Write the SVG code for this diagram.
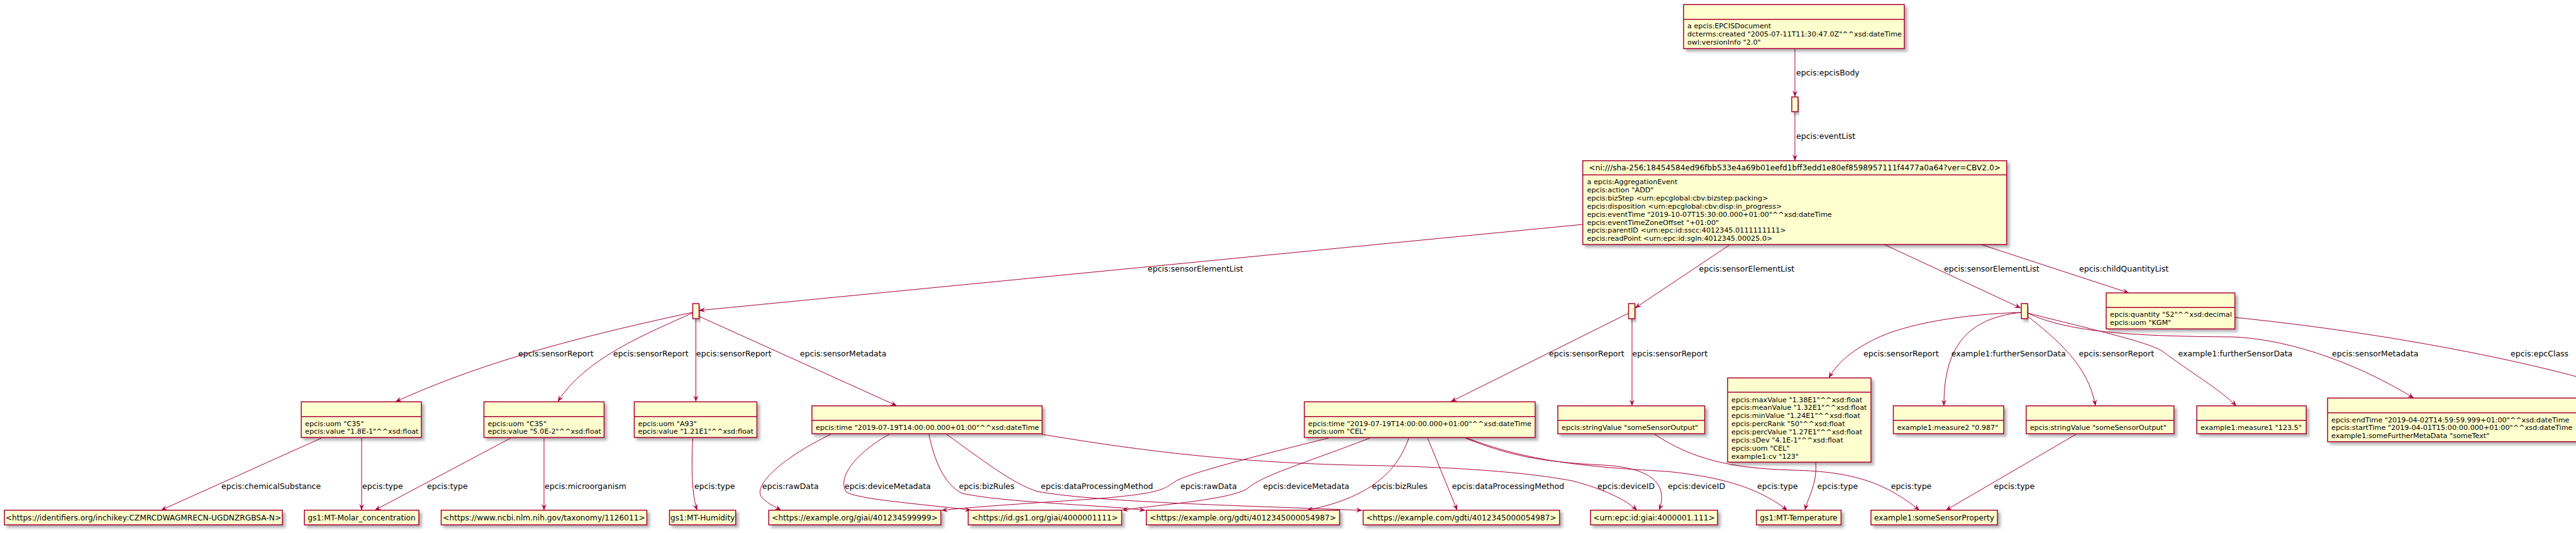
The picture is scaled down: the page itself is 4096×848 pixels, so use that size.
<svg xmlns="http://www.w3.org/2000/svg" width="4096" height="848" viewBox="0 0 4096 848">
<defs>
<style>
.box{fill:#FEFECE;stroke:#A80036;stroke-width:1.5;filter:url(#sh)}
.sep{stroke:#A80036;stroke-width:1.5}
.at{font-family:"DejaVu Sans",sans-serif;font-size:11.2px;fill:#000}
.nm{font-family:"DejaVu Sans",sans-serif;font-size:12.2px;fill:#000;text-anchor:middle}
.lb{font-family:"DejaVu Sans",sans-serif;font-size:12.5px;fill:#000}
.e{fill:none;stroke:#A80036;stroke-width:1;marker-end:url(#ah)}
.en{fill:none;stroke:#A80036;stroke-width:1}
</style>
<filter id="sh" x="-10%" y="-10%" width="130%" height="150%">
<feDropShadow dx="4" dy="4" stdDeviation="2" flood-color="#000" flood-opacity="0.3"/>
</filter>
<marker id="ah" viewBox="0 0 10 10" refX="10" refY="5" markerWidth="10" markerHeight="10" markerUnits="userSpaceOnUse" orient="auto">
<path d="M0,1 L10,5 L0,9 L4,5 Z" fill="#A80036"/>
</marker>
</defs>
<rect width="4096" height="848" fill="#fff"/>

<g id="connectors">
<path class="e" d="M2854,77.5 L2854,154"/>
<path class="e" d="M2854,178 L2854,255.7"/>
<path class="e" d="M2517,357 L1111.5,494"/>
<path class="e" d="M2751,389 L2600,490"/>
<path class="e" d="M2996,389 L3213,490"/>
<path class="e" d="M3150,389 L3385,466"/>
<path class="en" d="M3553,505 C3750,525 3950,560 4100,600"/>
<path class="e" d="M1101,497 C900,540 760,580 629,639"/>
<path class="e" d="M1101,498 C1030,530 930,570 887,639"/>
<path class="e" d="M1106.5,507 L1106.5,639"/>
<path class="e" d="M1111,503 L1426,645.5"/>
<path class="e" d="M511,697 L256,811.7"/>
<path class="e" d="M575,697 L575,811.7"/>
<path class="e" d="M812,697 L596,811.7"/>
<path class="e" d="M865,697 L865,811.7"/>
<path class="e" d="M1101.7,697 C1099,740 1100,790 1108.7,811.7"/>
<path class="e" d="M1321,691 C1240,730 1195,775 1212,792 C1222,802 1232,806 1242,811.7"/>
<path class="e" d="M1414,691 C1370,715 1330,755 1345,782 C1360,795 1480,803 1544,811.7"/>
<path class="e" d="M1477,691 C1485,730 1500,770 1530,785 C1600,800 1750,803 1821,812"/>
<path class="e" d="M1505,691 C1560,730 1610,770 1650,782 C1750,800 2000,805 2166,812"/>
<path class="e" d="M1657,691 C1800,715 1950,735 2150,740 C2300,742 2420,750 2500,765 C2550,778 2585,795 2603,811.7"/>
<path class="e" d="M2112,697 C2000,725 1900,750 1870,765 C1850,780 1840,785 1750,793 C1650,800 1550,806 1497,812"/>
<path class="e" d="M2178,697 C2080,735 2010,755 1985,776 C1960,795 1850,802 1784,811.7"/>
<path class="e" d="M2240,697 C2225,740 2190,790 2078,811.7"/>
<path class="e" d="M2270,697 L2317,811.7"/>
<path class="e" d="M2330,697 C2400,725 2450,735 2550,740 C2640,745 2650,780 2638,811.7"/>
<path class="e" d="M2333,697 C2420,730 2500,742 2650,750 C2750,760 2800,780 2842,811.7"/>
<path class="e" d="M2887,735.3 C2890,770 2875,790 2870,811.7"/>
<path class="e" d="M2631,691 C2690,730 2750,745 2850,748 C2950,750 3000,770 3052,811.7"/>
<path class="e" d="M3301,691 L3094,811.7"/>
<path class="e" d="M2590,498 L2307,639"/>
<path class="e" d="M2595,507 L2595,645.7"/>
<path class="e" d="M3214,497 C3120,500 3030,515 2980,540 C2940,560 2920,580 2908,601.3"/>
<path class="e" d="M3214,497 C3140,505 3090,540 3091,645.7"/>
<path class="e" d="M3224,503 C3270,540 3320,580 3332,645.7"/>
<path class="e" d="M3224,498 C3330,525 3420,545 3440,560 C3480,590 3530,620 3556,645.7"/>
<path class="e" d="M3224,498 C3290,530 3400,535 3550,536 C3650,540 3760,585 3838,633.3"/>

<text class="lb" x="2856" y="120.2">epcis:epcisBody</text>
<text class="lb" x="2856" y="221.2">epcis:eventList</text>
<text class="lb" x="1825" y="432.2">epcis:sensorElementList</text>
<text class="lb" x="2701.5" y="432.2">epcis:sensorElementList</text>
<text class="lb" x="3091" y="432.2">epcis:sensorElementList</text>
<text class="lb" x="3306" y="432.2">epcis:childQuantityList</text>
<text class="lb" x="3992" y="567.2">epcis:epcClass</text>
<text class="lb" x="824" y="567.2">epcis:sensorReport</text>
<text class="lb" x="975" y="567.2">epcis:sensorReport</text>
<text class="lb" x="1107" y="567.2">epcis:sensorReport</text>
<text class="lb" x="1272" y="567.2">epcis:sensorMetadata</text>
<text class="lb" x="2463" y="567.2">epcis:sensorReport</text>
<text class="lb" x="2595.6" y="567.2">epcis:sensorReport</text>
<text class="lb" x="2963" y="567.2">epcis:sensorReport</text>
<text class="lb" x="3102.8" y="567.2">example1:furtherSensorData</text>
<text class="lb" x="3305.5" y="567.2">epcis:sensorReport</text>
<text class="lb" x="3463.5" y="567.2">example1:furtherSensorData</text>
<text class="lb" x="3708" y="567.2">epcis:sensorMetadata</text>
<text class="lb" x="352" y="778.2">epcis:chemicalSubstance</text>
<text class="lb" x="576" y="778.2">epcis:type</text>
<text class="lb" x="679" y="778.2">epcis:type</text>
<text class="lb" x="866" y="778.2">epcis:microorganism</text>
<text class="lb" x="1104" y="778.2">epcis:type</text>
<text class="lb" x="1212" y="778.2">epcis:rawData</text>
<text class="lb" x="1343" y="778.2">epcis:deviceMetadata</text>
<text class="lb" x="1524.7" y="778.2">epcis:bizRules</text>
<text class="lb" x="1655" y="778.2">epcis:dataProcessingMethod</text>
<text class="lb" x="1877" y="778.2">epcis:rawData</text>
<text class="lb" x="2008.5" y="778.2">epcis:deviceMetadata</text>
<text class="lb" x="2181.5" y="778.2">epcis:bizRules</text>
<text class="lb" x="2308.7" y="778.2">epcis:dataProcessingMethod</text>
<text class="lb" x="2540" y="778.2">epcis:deviceID</text>
<text class="lb" x="2652" y="778.2">epcis:deviceID</text>
<text class="lb" x="2794" y="778.2">epcis:type</text>
<text class="lb" x="2889.5" y="778.2">epcis:type</text>
<text class="lb" x="3006.7" y="778.2">epcis:type</text>
<text class="lb" x="3170.6" y="778.2">epcis:type</text>
</g>

<g id="doc">
<rect class="box" x="2677" y="7.3" width="351" height="70"/>
<line class="sep" x1="2677" y1="30.7" x2="3028" y2="30.7"/>
<text class="at" x="2683" y="45.3">a epcis:EPCISDocument</text>
<text class="at" x="2683" y="58.2">dcterms:created "2005-07-11T11:30:47.0Z"^^xsd:dateTime</text>
<text class="at" x="2683" y="71.1">owl:versionInfo "2.0"</text>
</g>
<g id="b0"><rect class="box" x="2849" y="154.3" width="10" height="23.4"/></g>

<g id="event">
<rect class="box" x="2516.7" y="255.7" width="674" height="133.3"/>
<line class="sep" x1="2516.7" y1="278.3" x2="3190.7" y2="278.3"/>
<text class="nm" x="2853.7" y="271">&lt;ni:///sha-256;18454584ed96fbb533e4a69b01eefd1bff3edd1e80ef8598957111f4477a0a64?ver=CBV2.0&gt;</text>
<text class="at" x="2523.5" y="293">a epcis:AggregationEvent</text>
<text class="at" x="2523.5" y="305.9">epcis:action "ADD"</text>
<text class="at" x="2523.5" y="318.8">epcis:bizStep &lt;urn:epcglobal:cbv:bizstep:packing&gt;</text>
<text class="at" x="2523.5" y="331.7">epcis:disposition &lt;urn:epcglobal:cbv:disp:in_progress&gt;</text>
<text class="at" x="2523.5" y="344.6">epcis:eventTime "2019-10-07T15:30:00.000+01:00"^^xsd:dateTime</text>
<text class="at" x="2523.5" y="357.5">epcis:eventTimeZoneOffset "+01:00"</text>
<text class="at" x="2523.5" y="370.4">epcis:parentID &lt;urn:epc:id:sscc:4012345.0111111111&gt;</text>
<text class="at" x="2523.5" y="383.3">epcis:readPoint &lt;urn:epc:id:sgln:4012345.00025.0&gt;</text>
</g>

<g id="b1"><rect class="box" x="1101.5" y="483" width="10" height="24"/></g>
<g id="b2"><rect class="box" x="2589.5" y="483" width="10" height="24"/></g>
<g id="b3"><rect class="box" x="3214" y="483" width="10" height="24"/></g>

<g id="qty">
<rect class="box" x="3349" y="466" width="204.6" height="57.3"/>
<line class="sep" x1="3349" y1="489.3" x2="3553.6" y2="489.3"/>
<text class="at" x="3355" y="504">epcis:quantity "52"^^xsd:decimal</text>
<text class="at" x="3355" y="517">epcis:uom "KGM"</text>
</g>

<g id="c35a">
<rect class="box" x="479" y="639.3" width="191" height="56.7"/>
<line class="sep" x1="479" y1="662.7" x2="670" y2="662.7"/>
<text class="at" x="485" y="677.5">epcis:uom "C35"</text>
<text class="at" x="485" y="690.4">epcis:value "1.8E-1"^^xsd:float</text>
</g>
<g id="c35b">
<rect class="box" x="769.5" y="639.3" width="191" height="56.7"/>
<line class="sep" x1="769.5" y1="662.7" x2="960.5" y2="662.7"/>
<text class="at" x="775.5" y="677.5">epcis:uom "C35"</text>
<text class="at" x="775.5" y="690.4">epcis:value "5.0E-2"^^xsd:float</text>
</g>
<g id="a93">
<rect class="box" x="1008.5" y="639.3" width="195" height="56.7"/>
<line class="sep" x1="1008.5" y1="662.7" x2="1203.5" y2="662.7"/>
<text class="at" x="1014.5" y="677.5">epcis:uom "A93"</text>
<text class="at" x="1014.5" y="690.4">epcis:value "1.21E1"^^xsd:float</text>
</g>
<g id="time1">
<rect class="box" x="1291" y="645.7" width="366" height="44.3"/>
<line class="sep" x1="1291" y1="668.7" x2="1657" y2="668.7"/>
<text class="at" x="1297" y="684">epcis:time "2019-07-19T14:00:00.000+01:00"^^xsd:dateTime</text>
</g>
<g id="time2">
<rect class="box" x="2074" y="639.3" width="367" height="56.7"/>
<line class="sep" x1="2074" y1="662.7" x2="2441" y2="662.7"/>
<text class="at" x="2080" y="677.5">epcis:time "2019-07-19T14:00:00.000+01:00"^^xsd:dateTime</text>
<text class="at" x="2080" y="690.4">epcis:uom "CEL"</text>
</g>
<g id="str1">
<rect class="box" x="2477" y="645.7" width="233.6" height="44.3"/>
<line class="sep" x1="2477" y1="668.7" x2="2710.6" y2="668.7"/>
<text class="at" x="2483" y="684">epcis:stringValue "someSensorOutput"</text>
</g>
<g id="stats">
<rect class="box" x="2747" y="601.3" width="228" height="134"/>
<line class="sep" x1="2747" y1="624" x2="2975" y2="624"/>
<text class="at" x="2753" y="639.5">epcis:maxValue "1.38E1"^^xsd:float</text>
<text class="at" x="2753" y="652.4">epcis:meanValue "1.32E1"^^xsd:float</text>
<text class="at" x="2753" y="665.3">epcis:minValue "1.24E1"^^xsd:float</text>
<text class="at" x="2753" y="678.2">epcis:percRank "50"^^xsd:float</text>
<text class="at" x="2753" y="691.1">epcis:percValue "1.27E1"^^xsd:float</text>
<text class="at" x="2753" y="704">epcis:sDev "4.1E-1"^^xsd:float</text>
<text class="at" x="2753" y="716.9">epcis:uom "CEL"</text>
<text class="at" x="2753" y="729.8">example1:cv "123"</text>
</g>
<g id="m2">
<rect class="box" x="3010.5" y="645.7" width="175.5" height="44.3"/>
<line class="sep" x1="3010.5" y1="668.7" x2="3186" y2="668.7"/>
<text class="at" x="3016.5" y="684">example1:measure2 "0.987"</text>
</g>
<g id="str2">
<rect class="box" x="3221.7" y="645.7" width="235" height="44.3"/>
<line class="sep" x1="3221.7" y1="668.7" x2="3456.7" y2="668.7"/>
<text class="at" x="3227.7" y="684">epcis:stringValue "someSensorOutput"</text>
</g>
<g id="m1">
<rect class="box" x="3493" y="645.7" width="174" height="44.3"/>
<line class="sep" x1="3493" y1="668.7" x2="3667" y2="668.7"/>
<text class="at" x="3499" y="684">example1:measure1 "123.5"</text>
</g>
<g id="meta">
<rect class="box" x="3701" y="633.3" width="400" height="69.4"/>
<line class="sep" x1="3701" y1="656.7" x2="4101" y2="656.7"/>
<text class="at" x="3707" y="671.5">epcis:endTime "2019-04-02T14:59:59.999+01:00"^^xsd:dateTime</text>
<text class="at" x="3707" y="684.4">epcis:startTime "2019-04-01T15:00:00.000+01:00"^^xsd:dateTime</text>
<text class="at" x="3707" y="697.3">example1:someFurtherMetaData "someText"</text>
</g>

<g id="inchi"><rect class="box" x="7" y="811.7" width="442" height="23.3"/><text class="nm" x="228" y="828.4">&lt;https://identifiers.org/inchikey:CZMRCDWAGMRECN-UGDNZRGBSA-N&gt;</text></g>
<g id="molar"><rect class="box" x="484" y="811.7" width="182" height="23.3"/><text class="nm" x="575" y="828.4">gs1:MT-Molar_concentration</text></g>
<g id="ncbi"><rect class="box" x="701.5" y="811.7" width="327" height="23.3"/><text class="nm" x="865" y="828.4">&lt;https://www.ncbi.nlm.nih.gov/taxonomy/1126011&gt;</text></g>
<g id="humidity"><rect class="box" x="1064.5" y="811.7" width="105.3" height="23.3"/><text class="nm" x="1117.2" y="828.4">gs1:MT-Humidity</text></g>
<g id="giai1"><rect class="box" x="1222.4" y="811.7" width="273.6" height="23.3"/><text class="nm" x="1359.2" y="828.4">&lt;https://example.org/giai/401234599999&gt;</text></g>
<g id="gs1giai"><rect class="box" x="1539.5" y="811.7" width="244" height="23.3"/><text class="nm" x="1661.5" y="828.4">&lt;https://id.gs1.org/giai/4000001111&gt;</text></g>
<g id="gdtiorg"><rect class="box" x="1822.7" y="811.7" width="307.3" height="23.3"/><text class="nm" x="1976.4" y="828.4">&lt;https://example.org/gdti/4012345000054987&gt;</text></g>
<g id="gdticom"><rect class="box" x="2167.5" y="811.7" width="312.3" height="23.3"/><text class="nm" x="2323.6" y="828.4">&lt;https://example.com/gdti/4012345000054987&gt;</text></g>
<g id="urn"><rect class="box" x="2529" y="811.7" width="202" height="23.3"/><text class="nm" x="2630" y="828.4">&lt;urn:epc:id:giai:4000001.111&gt;</text></g>
<g id="temp"><rect class="box" x="2792.7" y="811.7" width="134.7" height="23.3"/><text class="nm" x="2860" y="828.4">gs1:MT-Temperature</text></g>
<g id="someprop"><rect class="box" x="2975" y="811.7" width="201" height="23.3"/><text class="nm" x="3075.5" y="828.4">example1:someSensorProperty</text></g>
</svg>
